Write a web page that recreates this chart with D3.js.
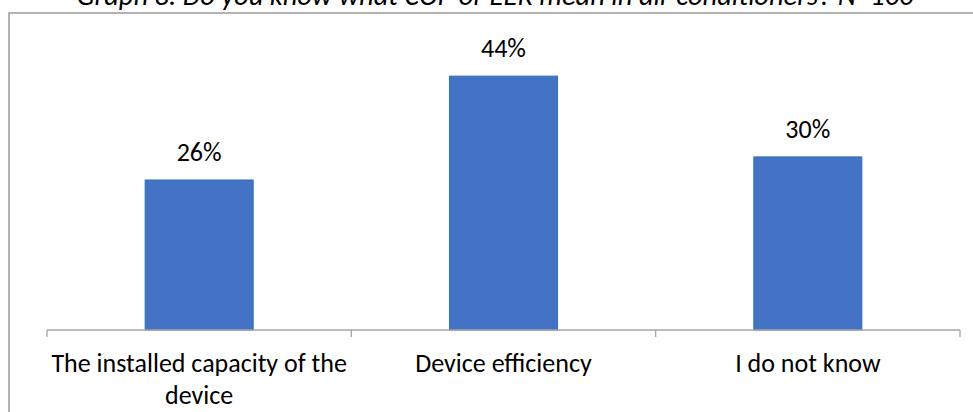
<!DOCTYPE html>
<html>
<head>
<meta charset="utf-8">
<script src="https://cdn.jsdelivr.net/npm/d3@7"></script>
<style>
  html, body { margin: 0; padding: 0; background: #fff; }
  svg { display: block; }
  text { font-family: Carlito, Calibri, "Open Sans", "Noto Sans", sans-serif; fill: #000; }
</style>
</head>
<body>
<svg id="chart" width="973" height="412"></svg>
<script>
// Survey answers: "Do you know what COP or EER mean in air conditioners?"
const titleText = "Graph 8. Do you know what COP or EER mean in air conditioners? N=100";
const categories = [["The installed capacity of the", "device"], ["Device efficiency"], ["I do not know"]];
const categoryKeys = ["capacity", "efficiency", "unknown"];
const shares = [26, 44, 30];

const W = 973, H = 412;
const svg = d3.select("#chart");

svg.append("rect").attr("width", W).attr("height", H).attr("fill", "#fff");

// outer chart border (runs past the right and bottom edges)
svg.append("rect")
  .attr("x", 9).attr("y", 13)
  .attr("width", W + 20).attr("height", H + 20)
  .attr("fill", "none")
  .attr("stroke", "#9a9a9a")
  .attr("stroke-width", 1.5);

// title, partly above the top edge
svg.append("text")
  .attr("x", 495).attr("y", 4.5)
  .attr("text-anchor", "middle")
  .attr("font-size", 28.5)
  .attr("font-style", "italic")
  .text(titleText);

const plotLeft = 47, plotRight = 960, baseY = 330;
const labelSize = 26;

const xCat = d3.scaleBand().domain(categoryKeys).range([plotLeft, plotRight]).padding(0);
const xBar = d3.scaleBand().domain(categoryKeys).range([plotLeft, plotRight])
  .paddingInner(0.645).paddingOuter(0.3225);
const y = d3.scaleLinear().domain([0, 50]).range([baseY, baseY - 288.5]);

const rows = categoryKeys.map((k, i) => ({ key: k, label: categories[i], value: shares[i] }));

// bars
svg.append("g").selectAll("rect").data(rows).join("rect")
  .attr("x", d => xBar(d.key))
  .attr("y", d => y(d.value))
  .attr("width", xBar.bandwidth())
  .attr("height", d => y(0) - y(d.value))
  .attr("fill", "#4472C4")
  .attr("stroke", "#2E75B6")
  .attr("stroke-width", 1);

// value labels
svg.append("g").selectAll("text").data(rows).join("text")
  .attr("x", d => xBar(d.key) + xBar.bandwidth() / 2)
  .attr("y", d => y(d.value) - 19)
  .attr("text-anchor", "middle")
  .attr("font-size", labelSize)
  .text(d => d.value + "%");

// category axis with boundary ticks
const axisG = svg.append("g").attr("stroke", "#a6a6a6").attr("stroke-width", 1.3);
axisG.append("line")
  .attr("x1", plotLeft).attr("x2", plotRight)
  .attr("y1", baseY).attr("y2", baseY);
const boundaries = categoryKeys.map(k => xCat(k)).concat([plotRight]);
axisG.selectAll("line.tick").data(boundaries).join("line")
  .attr("class", "tick")
  .attr("x1", d => d).attr("x2", d => d)
  .attr("y1", baseY).attr("y2", baseY + 7);

// category labels
const labelG = svg.append("g").selectAll("text").data(rows).join("text")
  .attr("x", d => xCat(d.key) + xCat.bandwidth() / 2)
  .attr("y", 372)
  .attr("text-anchor", "middle")
  .attr("font-size", labelSize);
labelG.selectAll("tspan").data(d => d.label.map((t, i) => ({ t, i }))).join("tspan")
  .attr("x", function () { return d3.select(this.parentNode).attr("x"); })
  .attr("dy", d => d.i === 0 ? 0 : 32)
  .text(d => d.t);
</script>
</body>
</html>
